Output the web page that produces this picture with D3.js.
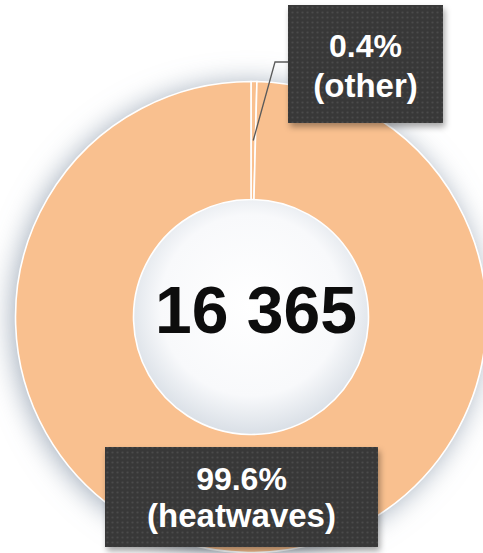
<!DOCTYPE html>
<html>
<head>
<meta charset="utf-8">
<script src="https://cdn.jsdelivr.net/npm/d3@7"></script>
<style>
  html, body { margin: 0; padding: 0; background: #ffffff; }
  svg { display: block; }
  text { font-family: "Liberation Sans", Arial, sans-serif; font-weight: bold; }
</style>
</head>
<body>
<svg id="chart" width="483" height="553"></svg>
<script>
// ---- data ----
const categories = ["other", "heatwaves"];
const shares = [0.4, 99.6];
const shareLabels = ["0.4%", "99.6%"];
const categoryLabels = ["(other)", "(heatwaves)"];
const totalLabel = "16 365";

// ---- layout ----
const W = 483, H = 553;
const cx = 251, cy = 317;
const rOuter = 235.5, rInner = 117.5;
const sliceColor = "#f9c08f";

const svg = d3.select("#chart");
const defs = svg.append("defs");

// glow / shadow around donut
const glow = defs.append("filter").attr("id", "glow")
  .attr("x", "-30%").attr("y", "-30%").attr("width", "160%").attr("height", "160%");
glow.append("feDropShadow").attr("dx", -3).attr("dy", 2).attr("stdDeviation", 14)
  .attr("flood-color", "#7f8fa2").attr("flood-opacity", 0.75);

// box shadow
const bshadow = defs.append("filter").attr("id", "bshadow")
  .attr("x", "-20%").attr("y", "-20%").attr("width", "140%").attr("height", "150%");
bshadow.append("feDropShadow").attr("dx", 2).attr("dy", 4).attr("stdDeviation", 3)
  .attr("flood-color", "#000").attr("flood-opacity", 0.35);

// hole gradient
const hg = defs.append("radialGradient").attr("id", "holeGrad")
  .attr("cx", "50%").attr("cy", "45%").attr("r", "55%");
hg.append("stop").attr("offset", "0%").attr("stop-color", "#ffffff");
hg.append("stop").attr("offset", "70%").attr("stop-color", "#f8f9fb");
hg.append("stop").attr("offset", "100%").attr("stop-color", "#d9dfe6");

// dotted box pattern
const pat = defs.append("pattern").attr("id", "dots")
  .attr("patternUnits", "userSpaceOnUse").attr("width", 5).attr("height", 5);
pat.append("rect").attr("width", 5).attr("height", 5).attr("fill", "#383838");
pat.append("circle").attr("cx", 2.5).attr("cy", 2.5).attr("r", 1.1).attr("fill", "#4b4b4b");

// ---- donut ----
const pie = d3.pie().sort(null).value(d => d)
  .startAngle(0).endAngle(2 * Math.PI);
const arcs = pie(shares);
const arcGen = d3.arc().innerRadius(rInner).outerRadius(rOuter);

const g = svg.append("g").attr("transform", `translate(${cx},${cy})`);

// shadowed base ring
g.append("path")
  .attr("d", d3.arc().innerRadius(rInner).outerRadius(rOuter).startAngle(0).endAngle(2 * Math.PI)())
  .attr("fill", sliceColor)
  .attr("filter", "url(#glow)");

// hole
g.append("circle").attr("r", rInner).attr("fill", "url(#holeGrad)");

g.selectAll("path.slice")
  .data(arcs)
  .join("path")
  .attr("class", "slice")
  .attr("d", arcGen)
  .attr("fill", sliceColor)
  .attr("stroke", "#ffffff")
  .attr("stroke-width", 1.6);

// center total
svg.append("text")
  .attr("x", 256).attr("y", 333)
  .attr("text-anchor", "middle")
  .attr("font-size", 66)
  .attr("fill", "#0d0d0d")
  .text(totalLabel);

// ---- labels ----
// leader line for "other"
const c0 = arcGen.centroid(arcs[0]);
const leader = d3.line()([
  [cx + c0[0], cy + c0[1]],
  [275, 62],
  [289, 62]
]);
svg.append("path").attr("d", leader)
  .attr("fill", "none").attr("stroke", "#5a5a5a").attr("stroke-width", 1.3);

const boxes = [
  { i: 0, x: 288, y: 5, w: 155, h: 118, y1: 57, y2: 97 },
  { i: 1, x: 105, y: 447, w: 273, h: 100, y1: 490, y2: 527 }
];

boxes.forEach(b => {
  svg.append("rect")
    .attr("x", b.x).attr("y", b.y).attr("width", b.w).attr("height", b.h)
    .attr("fill", "url(#dots)")
    .attr("filter", "url(#bshadow)");
  const tx = b.x + b.w / 2;
  svg.append("text").attr("x", tx).attr("y", b.y1)
    .attr("text-anchor", "middle").attr("font-size", 32).attr("fill", "#ffffff")
    .text(shareLabels[b.i]);
  svg.append("text").attr("x", tx).attr("y", b.y2)
    .attr("text-anchor", "middle").attr("font-size", 33).attr("fill", "#ffffff")
    .text(categoryLabels[b.i]);
});
</script>
</body>
</html>
